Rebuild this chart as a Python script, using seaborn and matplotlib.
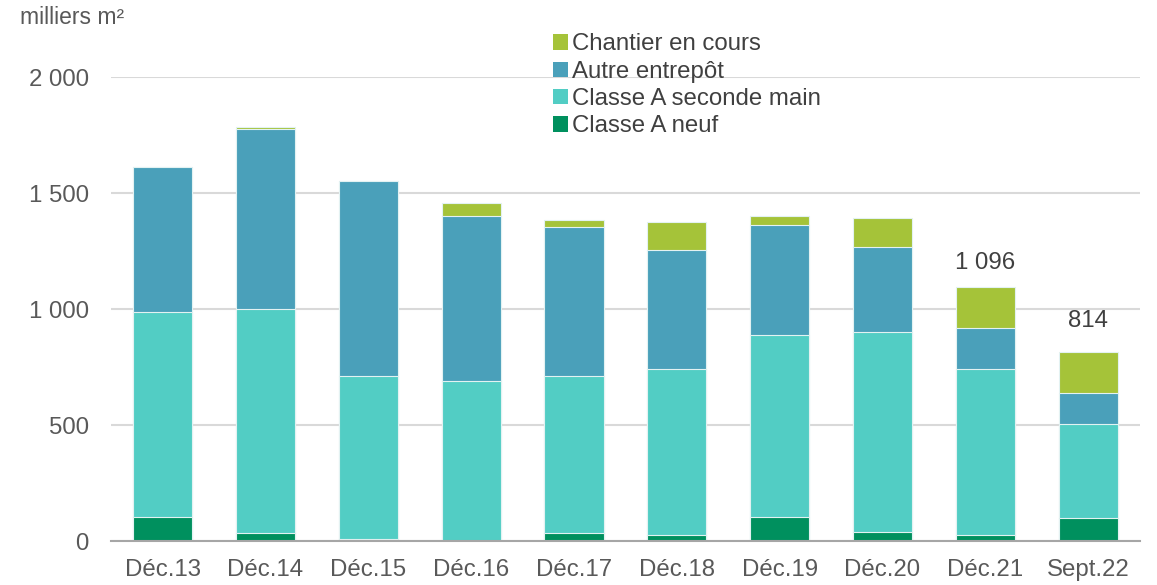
## Stacked bars of warehouse supply (milliers m²) by category, Déc.13 to Sept.22
import numpy as np
import pandas as pd
import seaborn as sns
import matplotlib.pyplot as plt
from matplotlib.patches import Patch

periods = ["Déc.13", "Déc.14", "Déc.15", "Déc.16", "Déc.17",
           "Déc.18", "Déc.19", "Déc.20", "Déc.21", "Sept.22"]
classe_a_neuf = [103, 34, 8, 2, 34, 25, 103, 38, 25, 98]
classe_a_seconde = [884, 966, 702, 688, 676, 716, 784, 862, 716, 409]
autre_entrepot = [627, 777, 842, 710, 645, 515, 477, 366, 178, 133]
chantier = [0, 8, 0, 59, 28, 119, 36, 128, 177, 174]
labelled = {"Déc.21": "1 096", "Sept.22": "814"}

df = pd.DataFrame({"period": periods, "neuf": classe_a_neuf,
                   "seconde": classe_a_seconde, "autre": autre_entrepot,
                   "chantier": chantier})
# cumulative heights, drawn from the top layer down
df["c1"] = df["neuf"]
df["c2"] = df["c1"] + df["seconde"]
df["c3"] = df["c2"] + df["autre"]
df["c4"] = df["c3"] + df["chantier"]

layers = [("c4", "Chantier en cours", "#A5C339"),
          ("c3", "Autre entrepôt", "#4AA0BA"),
          ("c2", "Classe A seconde main", "#52CDC4"),
          ("c1", "Classe A neuf", "#00905E")]

sns.set_style("white")
plt.rcParams["font.family"] = ["Liberation Sans", "DejaVu Sans"]
txt = "#595959"
fs = 17.3

fig = plt.figure(figsize=(11.57, 5.85), dpi=100)
ax = fig.add_axes([0.096, 0.075, 0.889, 0.793])

for col, name, color in layers:
    sns.barplot(data=df, x="period", y=col, color=color, width=0.575,
                edgecolor="#E3F2F2", linewidth=0.8, saturation=1, ax=ax,
                zorder=3)

ax.set_ylim(0, 2000)
ax.set_xlim(-0.5, len(periods) - 0.5)
ax.set_yticks([0, 500, 1000, 1500, 2000])
ax.set_yticklabels(["0", "500", "1 000", "1 500", "2 000"])
ax.yaxis.grid(True, color="#D9D9D9", linewidth=1.5, zorder=0)
ax.set_axisbelow(True)
for s in ["top", "right", "left"]:
    ax.spines[s].set_visible(False)
ax.spines["bottom"].set_color("#A6A6A6")
ax.spines["bottom"].set_linewidth(1.5)
ax.spines["bottom"].set_zorder(4)

ax.set_xticks(np.arange(len(periods) + 1) - 0.5, minor=True)
ax.tick_params(axis="x", which="minor", length=8, color="#A6A6A6", width=1.2)
ax.tick_params(axis="x", which="major", length=0, pad=13, labelsize=fs,
               labelcolor=txt)
ax.tick_params(axis="y", length=0, pad=16, labelsize=fs, labelcolor=txt)
ax.set_xlabel("")
ax.set_ylabel("")

label_offsets = {"Déc.21": 105, "Sept.22": 133}
for i, p in enumerate(periods):
    if p in labelled:
        ax.text(i, df["c4"][i] + label_offsets[p], labelled[p], ha="center",
                va="center", fontsize=fs, color="#404040")

fig.text(0.017, 0.97, "milliers m²", fontsize=16.5, color=txt, va="center")

handles = [Patch(facecolor=c, edgecolor="none") for _, _, c in layers]
leg = ax.legend(handles, [n for _, n, _ in layers], loc="upper left",
                bbox_to_anchor=(0.42, 1.115), frameon=False, fontsize=fs,
                handlelength=0.62, handleheight=0.62, handletextpad=0.2,
                labelspacing=0.22, borderaxespad=0)
for t in leg.get_texts():
    t.set_color("#404040")

plt.savefig("out.png", dpi=100)
